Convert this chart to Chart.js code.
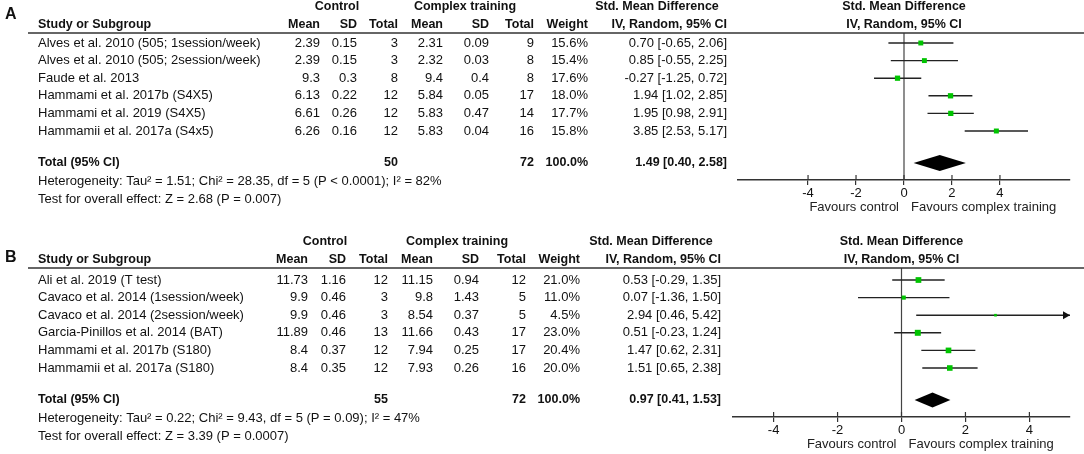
<!DOCTYPE html>
<html>
<head>
<meta charset="utf-8">
<script src="https://cdn.jsdelivr.net/npm/chart.js@4.4.0/dist/chart.umd.min.js"></script>
<style>
body{margin:0;background:#fff;}
canvas{display:block;}
</style>
</head>
<body>
<canvas id="chartA" width="1084" height="225"></canvas>
<canvas id="chartB" width="1084" height="229"></canvas>
<script>
// ---- panel A data
var studiesA = ["Alves et al. 2010 (505; 1session/week)", "Alves et al. 2010 (505; 2session/week)", "Faude et al. 2013",
    "Hammami et al. 2017b (S4X5)", "Hammami et al. 2019 (S4X5)", "Hammamii et al. 2017a (S4x5)"];
var ctrlMeanA = [2.39, 2.39, 9.3, 6.13, 6.61, 6.26];
var ctrlSdA = [0.15, 0.15, 0.3, 0.22, 0.26, 0.16];
var ctrlNA = [3, 3, 8, 12, 12, 12];
var expMeanA = [2.31, 2.32, 9.4, 5.84, 5.83, 5.83];
var expSdA = [0.09, 0.03, 0.4, 0.05, 0.47, 0.04];
var expNA = [9, 8, 8, 17, 14, 16];
var weightA = [15.6, 15.4, 17.6, 18.0, 17.7, 15.8];
var smdA = [0.70, 0.85, -0.27, 1.94, 1.95, 3.85];
var loA = [-0.65, -0.55, -1.25, 1.02, 0.98, 2.53];
var hiA = [2.06, 2.25, 0.72, 2.85, 2.91, 5.17];
var totalA = [50, 72, 1.49, 0.40, 2.58];   // ctrl N, exp N, smd, lo, hi
var notesA = ["Heterogeneity: Tau\u00b2 = 1.51; Chi\u00b2 = 28.35, df = 5 (P < 0.0001); I\u00b2 = 82%",
    "Test for overall effect: Z = 2.68 (P = 0.007)"];

// ---- panel B data
var studiesB = ["Ali et al. 2019 (T test)", "Cavaco et al. 2014 (1session/week)", "Cavaco et al. 2014 (2session/week)",
    "Garcia-Pinillos et al. 2014 (BAT)", "Hammami et al. 2017b (S180)", "Hammamii et al. 2017a (S180)"];
var ctrlMeanB = [11.73, 9.9, 9.9, 11.89, 8.4, 8.4];
var ctrlSdB = [1.16, 0.46, 0.46, 0.46, 0.37, 0.35];
var ctrlNB = [12, 3, 3, 13, 12, 12];
var expMeanB = [11.15, 9.8, 8.54, 11.66, 7.94, 7.93];
var expSdB = [0.94, 1.43, 0.37, 0.43, 0.25, 0.26];
var expNB = [12, 5, 5, 17, 17, 16];
var weightB = [21.0, 11.0, 4.5, 23.0, 20.4, 20.0];
var smdB = [0.53, 0.07, 2.94, 0.51, 1.47, 1.51];
var loB = [-0.29, -1.36, 0.46, -0.23, 0.62, 0.65];
var hiB = [1.35, 1.50, 5.42, 1.24, 2.31, 2.38];
var totalB = [55, 72, 0.97, 0.41, 1.53];
var notesB = ["Heterogeneity: Tau\u00b2 = 0.22; Chi\u00b2 = 9.43, df = 5 (P = 0.09); I\u00b2 = 47%",
    "Test for overall effect: Z = 3.39 (P = 0.0007)"];

var tickValues = [-4, -2, 0, 2, 4];

var FONT = '"Liberation Sans", Arial, sans-serif';
var REG = '13px ' + FONT;
var BOLD = 'bold 12.5px ' + FONT;

function ci(v, lo, hi) {
    return v.toFixed(2) + " [" + lo.toFixed(2) + ", " + hi.toFixed(2) + "]";
}

function forestPlugin(d, g) {
    return {
        id: 'forest' + d.letter,
        beforeDatasetsDraw: function(chart) {
            var ctx = chart.ctx, xs = chart.scales.x, ys = chart.scales.y, area = chart.chartArea;
            ctx.save();
            var x0 = xs.getPixelForValue(0);
            ctx.strokeStyle = '#444';
            ctx.lineWidth = 1.2;
            ctx.beginPath();
            ctx.moveTo(x0, area.top);
            ctx.lineTo(x0, area.bottom);
            ctx.stroke();

            // confidence intervals
            ctx.strokeStyle = '#222';
            ctx.fillStyle = '#111';
            ctx.lineWidth = 1.4;
            for (var i = 0; i < d.lo.length; i++) {
                var y = ys.getPixelForValue(i + 1);
                var x1 = xs.getPixelForValue(Math.max(d.lo[i], xs.min));
                var x2 = xs.getPixelForValue(Math.min(d.hi[i], xs.max));
                ctx.beginPath();
                ctx.moveTo(x1, y);
                ctx.lineTo(x2, y);
                ctx.stroke();
                if (d.hi[i] > xs.max) {
                    ctx.beginPath();
                    ctx.moveTo(x2, y);
                    ctx.lineTo(x2 - 7, y - 4);
                    ctx.lineTo(x2 - 7, y + 4);
                    ctx.closePath();
                    ctx.fill();
                }
            }

            // pooled diamond
            var yt = ys.getPixelForValue(g.totalRow);
            ctx.fillStyle = '#000';
            ctx.beginPath();
            ctx.moveTo(xs.getPixelForValue(d.total[3]), yt);
            ctx.lineTo(xs.getPixelForValue(d.total[2]), yt - g.dh);
            ctx.lineTo(xs.getPixelForValue(d.total[4]), yt);
            ctx.lineTo(xs.getPixelForValue(d.total[2]), yt + g.dh);
            ctx.closePath();
            ctx.fill();
            ctx.restore();
        },
        afterDraw: function(chart) {
            var ctx = chart.ctx, xs = chart.scales.x, ys = chart.scales.y, area = chart.chartArea;
            var top = area.top, c = g.cols;
            ctx.save();

            // tick stubs above the axis line (ticks cross the axis)
            ctx.strokeStyle = '#333';
            ctx.lineWidth = 1.2;
            for (var t = 0; t < tickValues.length; t++) {
                var tx = xs.getPixelForValue(tickValues[t]);
                ctx.beginPath();
                ctx.moveTo(tx, area.bottom - 5);
                ctx.lineTo(tx, area.bottom);
                ctx.stroke();
            }

            ctx.fillStyle = '#111';
            ctx.textBaseline = 'middle';

            ctx.font = 'bold 16px ' + FONT;
            ctx.textAlign = 'left';
            ctx.fillText(d.letter, 5, g.letterY);

            // header
            ctx.font = BOLD;
            ctx.textAlign = 'center';
            ctx.fillText('Control', g.ctrlHead, top - 26);
            ctx.fillText('Complex training', g.expHead, top - 26);
            ctx.fillText('Std. Mean Difference', g.smdHead, top - 26);
            var mid = (area.left + area.right) / 2;
            ctx.fillText('Std. Mean Difference', mid, top - 26);
            ctx.fillText('IV, Random, 95% CI', mid, top - 8);
            ctx.textAlign = 'left';
            ctx.fillText('Study or Subgroup', 38, top - 8);
            ctx.textAlign = 'right';
            var heads = ['Mean', 'SD', 'Total', 'Mean', 'SD', 'Total', 'Weight', 'IV, Random, 95% CI'];
            for (var h = 0; h < heads.length; h++) ctx.fillText(heads[h], c[h], top - 8);

            ctx.strokeStyle = '#333';
            ctx.lineWidth = 1.5;
            ctx.beginPath();
            ctx.moveTo(28, top);
            ctx.lineTo(chart.width, top);
            ctx.stroke();

            // study rows
            ctx.font = REG;
            for (var i = 0; i < d.studies.length; i++) {
                var y = ys.getPixelForValue(i + 1);
                ctx.textAlign = 'left';
                ctx.fillText(d.studies[i], 38, y);
                ctx.textAlign = 'right';
                var vals = [String(d.cm[i]), String(d.cs[i]), String(d.cn[i]), String(d.em[i]), String(d.es[i]),
                    String(d.en[i]), d.w[i].toFixed(1) + '%', ci(d.smd[i], d.lo[i], d.hi[i])];
                for (var k = 0; k < vals.length; k++) ctx.fillText(vals[k], c[k], y);
            }

            // total row
            var yt = ys.getPixelForValue(g.totalRow);
            ctx.font = BOLD;
            ctx.textAlign = 'left';
            ctx.fillText('Total (95% CI)', 38, yt);
            ctx.textAlign = 'right';
            ctx.fillText(String(d.total[0]), c[2], yt);
            ctx.fillText(String(d.total[1]), c[5], yt);
            ctx.fillText('100.0%', c[6], yt);
            ctx.fillText(ci(d.total[2], d.total[3], d.total[4]), c[7], yt);

            ctx.font = REG;
            ctx.textAlign = 'left';
            ctx.fillText(d.notes[0], 38, yt + 18.5);
            ctx.fillText(d.notes[1], 38, yt + 36);

            // favours labels
            var x0 = xs.getPixelForValue(0);
            ctx.fillStyle = '#222';
            ctx.textAlign = 'right';
            ctx.fillText('Favours control', x0 - 5, area.bottom + 27);
            ctx.textAlign = 'left';
            ctx.fillText('Favours complex training', x0 + 7, area.bottom + 27);
            ctx.restore();
        }
    };
}

function makeForest(id, d, g) {
    var canvas = document.getElementById(id);
    var W = canvas.width, H = canvas.height;
    var points = [];
    for (var i = 0; i < d.smd.length; i++) points.push({x: d.smd[i], y: i + 1});
    var radii = d.w.map(function(w) { return 1.25 * Math.sqrt(w) / Math.SQRT2; });

    return new Chart(canvas.getContext('2d'), {
        type: 'scatter',
        data: {
            datasets: [{
                data: points,
                pointStyle: 'rect',
                pointRadius: radii,
                pointHoverRadius: radii,
                backgroundColor: '#00c400',
                borderColor: '#00c400',
                borderWidth: 0
            }]
        },
        options: {
            responsive: false,
            animation: false,
            events: [],
            layout: {
                autoPadding: false,
                padding: {left: g.left, right: W - g.right, top: g.top, bottom: H - g.bottom - 22}
            },
            plugins: {legend: {display: false}, tooltip: {enabled: false}},
            scales: {
                x: {
                    type: 'linear',
                    position: 'bottom',
                    min: -g.half,
                    max: g.half,
                    afterBuildTicks: function(scale) {
                        scale.ticks = tickValues.map(function(v) { return {value: v}; });
                    },
                    afterFit: function(scale) { scale.height = 22; },
                    grid: {drawOnChartArea: false, drawTicks: true, tickLength: 5, color: '#333', lineWidth: 1.2},
                    border: {display: true, color: '#333', width: 1.5},
                    ticks: {
                        font: {size: 13, family: FONT},
                        color: '#111',
                        padding: 1,
                        maxRotation: 0,
                        callback: function(v) { return String(v); }
                    }
                },
                y: {type: 'linear', display: false, reverse: true, min: g.yMin, max: g.yMax}
            }
        },
        plugins: [forestPlugin(d, g)]
    });
}

makeForest('chartA', {
    letter: 'A', studies: studiesA, cm: ctrlMeanA, cs: ctrlSdA, cn: ctrlNA, em: expMeanA, es: expSdA, en: expNA,
    w: weightA, smd: smdA, lo: loA, hi: hiA, total: totalA, notes: notesA
}, {
    left: 738, right: 1070, top: 33, bottom: 180, half: 6.92, yMin: 0.432, yMax: 8.784, totalRow: 7.82, dh: 8,
    letterY: 15, cols: [320, 357, 398, 443, 489, 534, 588, 727], ctrlHead: 337, expHead: 465, smdHead: 657
});

makeForest('chartB', {
    letter: 'B', studies: studiesB, cm: ctrlMeanB, cs: ctrlSdB, cn: ctrlNB, em: expMeanB, es: expSdB, en: expNB,
    w: weightB, smd: smdB, lo: loB, hi: hiB, total: totalB, notes: notesB
}, {
    left: 733, right: 1070, top: 43, bottom: 192, half: 5.27, yMin: 0.318, yMax: 8.784, totalRow: 7.82, dh: 7.5,
    letterY: 33, cols: [308, 346, 388, 433, 479, 526, 580, 721], ctrlHead: 325, expHead: 457, smdHead: 651
});
</script>
</body>
</html>
